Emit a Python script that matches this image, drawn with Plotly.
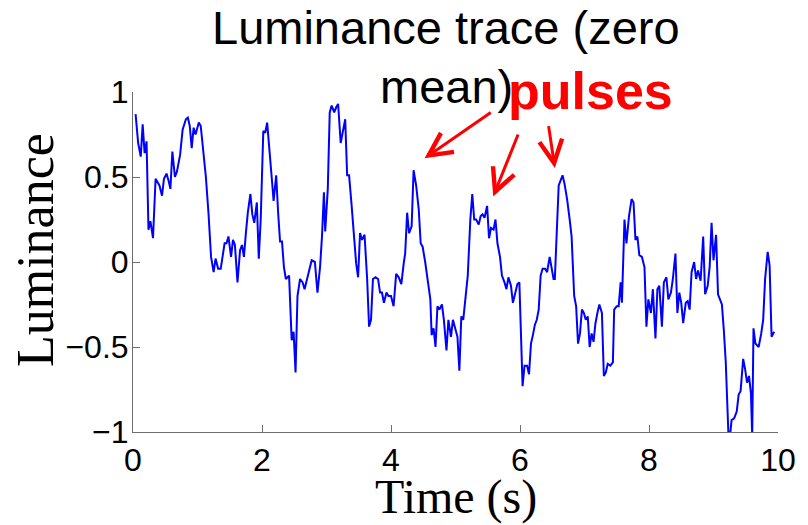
import plotly.graph_objects as go

# Luminance trace samples: time (s) and zero-mean luminance
time_s = [
    0.04, 0.08, 0.12, 0.15, 0.18, 0.21, 0.24, 0.27, 0.31, 0.35, 0.41, 0.45, 0.48, 0.52,
    0.55, 0.58, 0.61, 0.65, 0.68, 0.73, 0.77, 0.82, 0.85, 0.88, 0.91, 0.94, 0.97, 1.02,
    1.05, 1.09, 1.13, 1.17, 1.21, 1.25, 1.28, 1.32, 1.36, 1.42, 1.45, 1.48, 1.52, 1.55,
    1.58, 1.62, 1.66, 1.69, 1.72, 1.75, 1.78, 1.82, 1.85, 1.88, 1.92, 1.95, 1.98, 2.02,
    2.05, 2.08, 2.12, 2.15, 2.18, 2.22, 2.25, 2.28, 2.31, 2.34, 2.37, 2.42, 2.46, 2.49,
    2.52, 2.55, 2.59, 2.63, 2.66, 2.70, 2.73, 2.77, 2.82, 2.86, 2.90, 2.93, 2.96, 2.98,
    3.02, 3.05, 3.08, 3.12, 3.15, 3.18, 3.22, 3.25, 3.29, 3.32, 3.35, 3.39, 3.42, 3.46,
    3.49, 3.52, 3.55, 3.59, 3.63, 3.66, 3.69, 3.72, 3.76, 3.80, 3.83, 3.86, 3.89, 3.93,
    3.96, 4.00, 4.04, 4.08, 4.12, 4.16, 4.20, 4.22, 4.25, 4.28, 4.32, 4.35, 4.39, 4.43,
    4.46, 4.49, 4.53, 4.57, 4.61, 4.63, 4.66, 4.69, 4.72, 4.75, 4.79, 4.82, 4.86, 4.89,
    4.93, 4.96, 5.00, 5.03, 5.06, 5.09, 5.12, 5.16, 5.19, 5.23, 5.26, 5.29, 5.32, 5.36,
    5.39, 5.42, 5.45, 5.49, 5.52, 5.55, 5.59, 5.62, 5.65, 5.69, 5.72, 5.76, 5.79, 5.82,
    5.86, 5.89, 5.92, 5.96, 5.99, 6.02, 6.04, 6.07, 6.11, 6.14, 6.17, 6.20, 6.23, 6.26,
    6.29, 6.32, 6.35, 6.39, 6.42, 6.46, 6.49, 6.52, 6.54, 6.57, 6.60, 6.63, 6.66, 6.69,
    6.73, 6.77, 6.80, 6.84, 6.87, 6.90, 6.93, 6.96, 6.99, 7.02, 7.05, 7.08, 7.11, 7.14,
    7.17, 7.20, 7.23, 7.27, 7.30, 7.33, 7.36, 7.40, 7.44, 7.46, 7.50, 7.53, 7.56, 7.58,
    7.62, 7.65, 7.69, 7.73, 7.76, 7.79, 7.82, 7.85, 7.89, 7.93, 7.96, 7.99, 8.03, 8.06,
    8.10, 8.13, 8.16, 8.20, 8.23, 8.27, 8.30, 8.34, 8.37, 8.41, 8.44, 8.47, 8.50, 8.53,
    8.57, 8.60, 8.63, 8.66, 8.70, 8.73, 8.76, 8.80, 8.84, 8.87, 8.91, 8.94, 8.97, 9.00,
    9.04, 9.07, 9.10, 9.13, 9.16, 9.19, 9.23, 9.25, 9.28, 9.32, 9.36, 9.39, 9.42, 9.46,
    9.49, 9.52, 9.55, 9.58, 9.60, 9.62, 9.65, 9.70, 9.74, 9.77, 9.80, 9.84, 9.87, 9.90,
    9.94,
]
luminance = [
    0.87, 0.70, 0.62, 0.81, 0.64, 0.71, 0.19, 0.24, 0.14, 0.49, 0.45, 0.39, 0.49, 0.52,
    0.48, 0.43, 0.65, 0.50, 0.53, 0.63, 0.78, 0.84, 0.85, 0.80, 0.67, 0.79, 0.75, 0.82,
    0.80, 0.65, 0.50, 0.29, 0.03, -0.06, 0.02, -0.04, -0.04, 0.11, 0.11, 0.15, 0.03, 0.13,
    0.10, -0.12, 0.07, 0.10, 0.03, 0.17, 0.29, 0.40, 0.28, 0.23, 0.35, 0.02, 0.25, 0.77,
    0.76, 0.82, 0.66, 0.50, 0.36, 0.51, 0.29, 0.12, 0.12, -0.03, -0.10, -0.08, -0.46, -0.41,
    -0.65, -0.20, -0.10, -0.12, -0.16, -0.10, -0.06, 0.01, 0.00, -0.18, -0.03, 0.15, 0.41, 0.18,
    0.43, 0.88, 0.92, 0.88, 0.91, 0.93, 0.70, 0.76, 0.84, 0.51, 0.51, 0.33, 0.17, -0.01,
    -0.09, 0.17, 0.13, 0.16, -0.10, -0.38, -0.34, -0.10, -0.09, -0.10, -0.18, -0.18, -0.24, -0.18,
    -0.20, -0.20, -0.26, -0.07, -0.09, -0.13, 0.00, 0.05, 0.29, 0.17, 0.21, 0.54, 0.45, 0.31,
    0.11, 0.09, 0.00, -0.10, -0.22, -0.43, -0.39, -0.50, -0.26, -0.28, -0.25, -0.34, -0.52, -0.34,
    -0.44, -0.34, -0.39, -0.44, -0.64, -0.32, -0.34, -0.18, -0.08, 0.25, 0.40, 0.25, 0.25, 0.22,
    0.27, 0.28, 0.26, 0.33, 0.14, 0.20, 0.19, 0.25, 0.11, 0.03, -0.08, -0.12, -0.16, -0.09,
    -0.14, -0.24, -0.19, -0.13, -0.12, -0.42, -0.73, -0.61, -0.61, -0.66, -0.48, -0.43, -0.37, -0.34,
    -0.28, -0.08, -0.04, -0.04, -0.06, 0.03, -0.05, -0.10, -0.10, 0.21, 0.45, 0.48, 0.51, 0.46,
    0.37, 0.25, 0.15, -0.20, -0.26, -0.48, -0.42, -0.28, -0.30, -0.34, -0.32, -0.50, -0.42, -0.47,
    -0.36, -0.30, -0.25, -0.30, -0.67, -0.65, -0.60, -0.61, -0.59, -0.28, -0.26, -0.26, -0.12, -0.24,
    0.25, 0.11, 0.27, 0.37, 0.35, 0.13, 0.15, 0.04, 0.03, -0.03, -0.38, -0.22, -0.30, -0.16,
    -0.45, -0.16, -0.14, -0.38, -0.12, -0.09, -0.22, -0.18, -0.10, 0.05, -0.30, -0.18, -0.24, -0.36,
    -0.24, -0.23, -0.28, -0.06, 0.00, -0.10, -0.05, -0.11, 0.15, -0.19, -0.14, -0.03, 0.23, 0.01,
    0.16, -0.19, -0.22, -0.25, -0.40, -0.59, -1.00, -1.05, -0.93, -0.92, -0.88, -0.78, -0.76, -0.57,
    -0.63, -0.71, -0.67, -0.77, -1.02, -0.39, -0.48, -0.50, -0.42, -0.34, -0.10, 0.06, -0.02, -0.44,
    -0.41,
]

x_ticks = [0, 2, 4, 6, 8, 10]
y_ticks = [-1, -0.5, 0, 0.5, 1]
y_tick_text = ["\u22121", "\u22120.5", "0", "0.5", "1"]

title_lines = ["Luminance trace (zero", "mean)"]
callout_text = "pulses"
x_label = "Time (s)"
y_label = "Luminance"

# Callout arrows: (head time, head value, tail time, tail value)
pulse_arrows = [
    (4.52, 0.61, 5.57, 0.886),
    (5.585, 0.386, 5.98, 0.759),
    (6.54, 0.553, 6.44, 0.808),
]

SANS = "Liberation Sans, Arial, Helvetica, sans-serif"
SERIF = "Liberation Serif, Times New Roman, serif"
AXIS_GREY = "#6e6e6e"

fig = go.Figure()
fig.add_trace(go.Scatter(
    x=time_s, y=luminance, mode="lines",
    line=dict(color="#0000ff", width=2),
    hoverinfo="skip", showlegend=False,
))

axis_common = dict(
    showline=True, linecolor=AXIS_GREY, linewidth=1,
    ticks="inside", ticklen=7, tickwidth=1, tickcolor=AXIS_GREY,
    showgrid=False, zeroline=False, mirror=False,
    tickfont=dict(family=SANS, size=32, color="#000000"),
)

fig.update_layout(
    width=808, height=525,
    margin=dict(l=133, r=25, t=92, b=93),
    paper_bgcolor="white", plot_bgcolor="white",
    xaxis=dict(range=[0, 10], tickvals=x_ticks, ticktext=[str(v) for v in x_ticks],
               **axis_common),
    yaxis=dict(range=[-1, 1], tickvals=y_ticks, ticktext=y_tick_text,
               ticklabelstandoff=-3, **axis_common),
)

annotations = [
    dict(text=title_lines[0], xref="paper", yref="paper", x=0.486, y=1.191,
         xanchor="center", yanchor="middle", showarrow=False,
         font=dict(family=SANS, size=47, color="#000000")),
    dict(text=title_lines[1], xref="paper", yref="paper", x=0.486, y=1.015,
         xanchor="center", yanchor="middle", showarrow=False,
         font=dict(family=SANS, size=47, color="#000000")),
    dict(text="<b>%s</b>" % callout_text, xref="paper", yref="paper", x=0.710, y=1.004,
         xanchor="center", yanchor="middle", showarrow=False,
         font=dict(family=SANS, size=52, color="#ff0000")),
    dict(text=x_label, xref="paper", yref="paper", x=0.5, y=-0.19,
         xanchor="center", yanchor="middle", showarrow=False,
         font=dict(family=SERIF, size=48, color="#000000")),
    dict(text=y_label, xref="paper", yref="paper", x=-0.152, y=0.535,
         xanchor="center", yanchor="middle", showarrow=False, textangle=-90,
         font=dict(family=SERIF, size=52, color="#000000")),
]
for hx, hy, tx, ty in pulse_arrows:
    annotations.append(dict(
        x=hx, y=hy, ax=tx, ay=ty, xref="x", yref="y", axref="x", ayref="y",
        text="", showarrow=True, arrowhead=5, arrowsize=1.5, arrowwidth=3,
        arrowcolor="#ff0000", standoff=0, startstandoff=0,
    ))
fig.update_layout(annotations=annotations)

fig.write_html("out.html")
